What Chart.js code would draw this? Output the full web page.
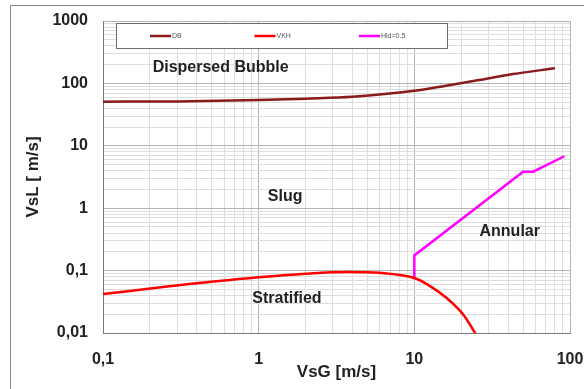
<!DOCTYPE html>
<html>
<head>
<meta charset="utf-8">
<script src="https://cdn.jsdelivr.net/npm/chart.js@4"></script>
<style>
    body { margin: 0; background: #fff; }
    canvas { display: block; }
</style>
</head>
<body>
<canvas id="flowMap" width="584" height="389"></canvas>
<script>
// Flow pattern map data (VsG, VsL in m/s)
const dbX = [0.1, 0.3, 1, 2, 4, 10, 16, 26, 43, 80];
const dbY = [51, 51.5, 54, 57, 61, 76, 92, 113, 141, 175];

const vkhX = [0.1, 0.25, 1, 2, 3.7, 6, 10, 12.7, 16.2, 20.7, 25.3];
const vkhY = [0.042, 0.055, 0.078, 0.089, 0.095, 0.092, 0.076, 0.056, 0.036, 0.0195, 0.0089];

const hldX = [10, 10, 50, 58, 92];
const hldY = [0.073, 0.175, 3.85, 3.85, 6.8];

const seriesNames = ['DB', 'VKH', 'Hld=0.5'];

const xTickValues = [0.1, 1, 10, 100];
const xTickLabels = ['0,1', '1', '10', '100'];
const yTickValues = [0.01, 0.1, 1, 10, 100, 1000];
const yTickLabels = ['0,01', '0,1', '1', '10', '100', '1000'];

const regionNames = ['Dispersed Bubble', 'Slug', 'Annular', 'Stratified'];
const regionX = [0.57, 1.48, 41, 1.52];
const regionY = [177, 1.52, 0.42, 0.0353];

const FONT = '"Liberation Sans", Arial, sans-serif';
const TEXT_COLOR = '#222';

function toPoints(xs, ys) {
    return xs.map((x, i) => ({ x: x, y: ys[i] }));
}

// all 1..9 x 10^n ticks so every grid line is drawn
function logTicks(min, max) {
    const ticks = [];
    for (let e = Math.round(Math.log10(min)); e < Math.round(Math.log10(max)); e++) {
        for (let m = 1; m < 10; m++) {
            ticks.push({ value: m * Math.pow(10, e) });
        }
    }
    ticks.push({ value: max });
    return ticks;
}

function isDecade(v) {
    const l = Math.log10(v);
    return Math.abs(l - Math.round(l)) < 1e-9;
}

function labelFor(values, labels, v) {
    const i = values.findIndex(t => Math.abs(t - v) / t < 1e-9);
    return i >= 0 ? labels[i] : '';
}

// outer frame, legend box and region names
const decorations = {
    id: 'decorations',
    beforeDraw(chart) {
        const ctx = chart.ctx;
        ctx.save();
        ctx.fillStyle = '#fff';
        ctx.fillRect(0, 0, chart.width, chart.height);
        ctx.strokeStyle = '#8a8a8a';
        ctx.lineWidth = 1;
        ctx.strokeRect(10.5, 5.5, chart.width + 20, chart.height + 20);
        ctx.restore();
    },
    afterDatasetsDraw(chart) {
        const ctx = chart.ctx;
        const area = chart.chartArea;
        const xs = chart.scales.x;
        const ys = chart.scales.y;

        // region names
        ctx.save();
        ctx.fillStyle = TEXT_COLOR;
        ctx.font = 'bold 16px ' + FONT;
        ctx.textAlign = 'center';
        ctx.textBaseline = 'middle';
        regionNames.forEach((name, i) => {
            ctx.fillText(name, xs.getPixelForValue(regionX[i]), ys.getPixelForValue(regionY[i]));
        });
        ctx.restore();

        // legend box
        const left = area.left + 13.5;
        const top = area.top + 2.5;
        ctx.save();
        ctx.fillStyle = '#fff';
        ctx.fillRect(left, top, 331, 25);
        ctx.strokeStyle = '#6e6e6e';
        ctx.lineWidth = 1;
        ctx.strokeRect(left, top, 331, 25);
        ctx.font = '7px ' + FONT;
        ctx.textBaseline = 'middle';
        const midY = top + 12.5;
        chart.data.datasets.forEach((ds, i) => {
            const lx = area.left + 47 + i * 104.5;
            ctx.strokeStyle = ds.borderColor;
            ctx.lineWidth = 2.5;
            ctx.beginPath();
            ctx.moveTo(lx, midY);
            ctx.lineTo(lx + 21, midY);
            ctx.stroke();
            ctx.fillStyle = '#555';
            ctx.fillText(ds.label, lx + 22, midY);
        });
        ctx.restore();
    }
};

const axisFont = { family: FONT, size: 16, weight: 'bold' };
const titleFont = { family: FONT, size: 17, weight: 'bold' };
const gridColor = (c) => (c.tick && isDecade(c.tick.value)) ? '#b4b4b4' : '#dedede';

new Chart(document.getElementById('flowMap'), {
    type: 'line',
    data: {
        datasets: [{
            label: seriesNames[0],
            data: toPoints(dbX, dbY),
            borderColor: '#8b1a1a',
            borderWidth: 2.5,
            pointRadius: 0,
            cubicInterpolationMode: 'monotone'
        }, {
            label: seriesNames[1],
            data: toPoints(vkhX, vkhY),
            borderColor: '#ff0000',
            borderWidth: 2.5,
            pointRadius: 0,
            cubicInterpolationMode: 'monotone'
        }, {
            label: seriesNames[2],
            data: toPoints(hldX, hldY),
            borderColor: '#ff00ff',
            borderWidth: 2.5,
            pointRadius: 0,
            tension: 0
        }]
    },
    options: {
        responsive: false,
        animation: false,
        layout: { padding: { left: 14, right: 14, top: 21, bottom: 6 } },
        plugins: {
            legend: { display: false },
            tooltip: { enabled: false }
        },
        scales: {
            x: {
                type: 'logarithmic',
                min: 0.1,
                max: 100,
                afterBuildTicks: (scale) => { scale.ticks = logTicks(0.1, 100); },
                afterFit: (scale) => {
                    scale.height = 50;
                    scale.paddingLeft = 0;
                    scale.paddingRight = 0;
                },
                ticks: {
                    autoSkip: false,
                    maxRotation: 0,
                    padding: 17,
                    color: TEXT_COLOR,
                    font: axisFont,
                    callback: (v) => labelFor(xTickValues, xTickLabels, v)
                },
                grid: { color: gridColor, drawTicks: false },
                border: { color: '#7a7a7a' },
                title: {
                    display: true,
                    text: 'VsG [m/s]',
                    color: TEXT_COLOR,
                    font: titleFont,
                    padding: { top: 0, bottom: 0 }
                }
            },
            y: {
                type: 'logarithmic',
                min: 0.01,
                max: 1000,
                afterBuildTicks: (scale) => { scale.ticks = logTicks(0.01, 1000); },
                afterFit: (scale) => {
                    scale.width = 89;
                    scale.paddingTop = 0;
                    scale.paddingBottom = 0;
                },
                ticks: {
                    autoSkip: false,
                    padding: 15,
                    color: TEXT_COLOR,
                    font: axisFont,
                    callback: (v) => labelFor(yTickValues, yTickLabels, v)
                },
                grid: { color: gridColor, drawTicks: false },
                border: { color: '#7a7a7a' },
                title: {
                    display: true,
                    text: 'VsL [ m/s]',
                    color: TEXT_COLOR,
                    font: titleFont,
                    padding: { top: 9, bottom: 0 }
                }
            }
        }
    },
    plugins: [decorations]
});
</script>
</body>
</html>
